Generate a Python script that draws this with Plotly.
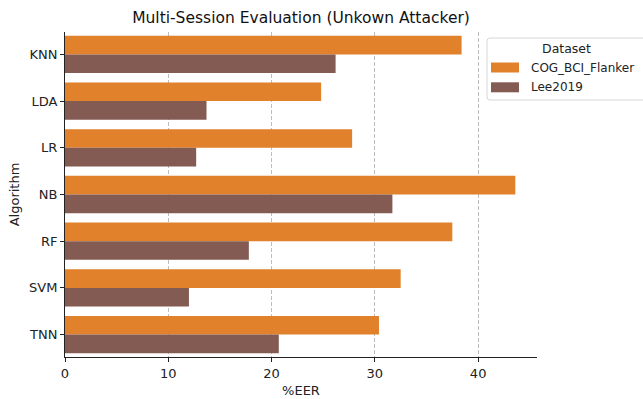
import plotly.graph_objects as go

algorithms = ["KNN", "LDA", "LR", "NB", "RF", "SVM", "TNN"]
eer_cog_bci_flanker = [38.4, 24.8, 27.8, 43.6, 37.5, 32.5, 30.4]
eer_lee2019 = [26.2, 13.7, 12.7, 31.7, 17.8, 12.0, 20.7]
x_ticks = [0, 10, 20, 30, 40]
series_names = ["COG_BCI_Flanker", "Lee2019"]
series_colors = ["#e1812c", "#845b53"]

FONT = "DejaVu Sans"
W, H = 643, 399
ML, MR, MT, MB = 65, 106, 32, 42
PW, PH = W - ML - MR, H - MT - MB


def px_x(px):
    return (px - ML) / PW


def px_y(py):
    return 1 - (py - MT) / PH


fig = go.Figure()
for name, values, color in zip(series_names, [eer_cog_bci_flanker, eer_lee2019], series_colors):
    fig.add_trace(go.Bar(
        y=algorithms, x=values, orientation="h", name=name,
        marker=dict(color=color, line=dict(width=0)), showlegend=False,
    ))

# Legend drawn by hand: framed box, wide colour patches, title on top
bx0, by0, bx1, by1, r = 487, 38, 660, 100, 3
fig.add_shape(
    type="path", xref="paper", yref="paper",
    path=(f"M {px_x(bx0 + r)},{px_y(by0)} L {px_x(bx1)},{px_y(by0)} "
          f"L {px_x(bx1)},{px_y(by1)} L {px_x(bx0 + r)},{px_y(by1)} "
          f"Q {px_x(bx0)},{px_y(by1)} {px_x(bx0)},{px_y(by1 - r)} "
          f"L {px_x(bx0)},{px_y(by0 + r)} "
          f"Q {px_x(bx0)},{px_y(by0)} {px_x(bx0 + r)},{px_y(by0)} Z"),
    line=dict(color="#d6d6d6", width=1), fillcolor="rgba(255,255,255,0.8)", layer="above",
)
fig.add_annotation(text="Dataset", xref="paper", yref="paper",
                   x=px_x(566), y=px_y(48.5), xanchor="center", yanchor="middle",
                   showarrow=False, font=dict(size=12.5, color="#222222"))
for i, (name, color) in enumerate(zip(series_names, series_colors)):
    cy = 67.5 + 19.8 * i
    fig.add_shape(type="rect", xref="paper", yref="paper",
                  x0=px_x(491), x1=px_x(519), y0=px_y(cy - 5), y1=px_y(cy + 5),
                  fillcolor=color, line=dict(width=0), layer="above")
    fig.add_annotation(text=name, xref="paper", yref="paper",
                       x=px_x(529), y=px_y(cy), xanchor="left", yanchor="middle",
                       showarrow=False, font=dict(size=12, color="#222222"))

fig.update_layout(
    width=W, height=H,
    margin=dict(l=ML, r=MR, t=MT, b=MB, autoexpand=False),
    paper_bgcolor="white", plot_bgcolor="white",
    barmode="group", bargap=0.2, bargroupgap=0,
    font=dict(family=FONT, size=13, color="#222222"),
    title=dict(text="Multi-Session Evaluation (Unkown Attacker)",
               x=301 / W, xanchor="center", y=1 - 18 / H, yanchor="middle",
               font=dict(size=15.5, color="#111111")),
    showlegend=False,
    xaxis=dict(
        range=[0, 45.7], tickvals=x_ticks, ticktext=[str(v) for v in x_ticks],
        showgrid=True, gridcolor="#bdbdbd", griddash="4px,2px", gridwidth=1,
        layer="above traces",
        zeroline=False, showline=True, linecolor="#222222", linewidth=1,
        ticks="outside", ticklen=4, tickcolor="#222222",
        title=dict(text="%EER", standoff=6, font=dict(size=13)),
        tickfont=dict(size=13),
    ),
    yaxis=dict(
        categoryorder="array", categoryarray=algorithms,
        range=[6.48, -0.48],
        showgrid=False, zeroline=False, showline=True, linecolor="#222222", linewidth=1,
        ticks="outside", ticklen=4, tickcolor="#222222",
        title=dict(text="Algorithm", standoff=6, font=dict(size=13)),
        tickfont=dict(size=13),
    ),
)

fig.write_html("out.html")
